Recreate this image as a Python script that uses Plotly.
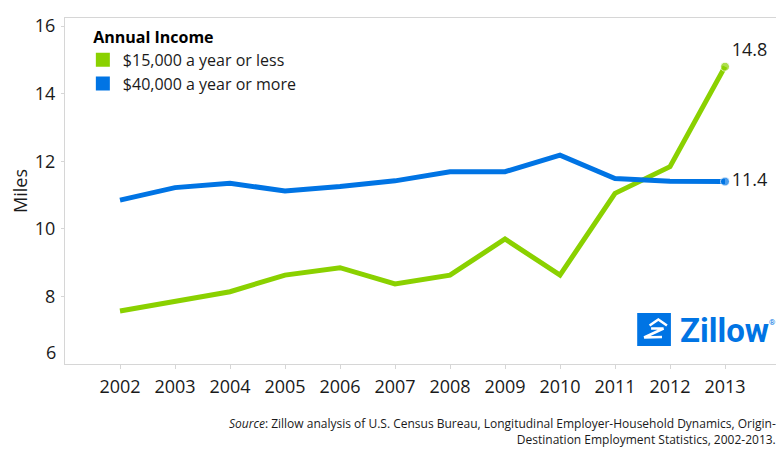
import plotly.graph_objects as go

years = [2002, 2003, 2004, 2005, 2006, 2007, 2008, 2009, 2010, 2011, 2012, 2013]
low_income = [7.57, 7.86, 8.14, 8.63, 8.85, 8.37, 8.63, 9.70, 8.63, 11.05, 11.84, 14.8]
high_income = [10.85, 11.22, 11.35, 11.12, 11.25, 11.42, 11.69, 11.69, 12.18, 11.49, 11.41, 11.4]
series_names = ["$15,000 a year or less", "$40,000 a year or more"]
y_ticks = [8, 10, 12, 14, 16]

GREEN = "#8AD100"
BLUE = "#0074E4"
TXT = "#1a1a1a"
FONT = "Open Sans"

OFF = 8  # default page body margin
W, H = 784 - OFF, 454 - OFF
# plot area in page pixels: left 60, top 18, right 781, bottom 364
ML, MT = 60 - OFF, 18 - OFF
MR = W - (781 - OFF)
MB = H - (364 - OFF)
PW, PH = W - ML - MR, H - MT - MB


def P(px, py):
    """page pixel -> paper coordinates"""
    fx, fy = px - OFF, py - OFF
    return (fx - ML) / PW, (H - MB - fy) / PH


def end_only(vals):
    return [""] * (len(vals) - 1) + [f"{vals[-1]:.1f}"]


def end_marker(vals):
    return [0] * (len(vals) - 1) + [9]


fig = go.Figure()
fig.add_trace(go.Scatter(
    x=years, y=low_income, mode="lines+markers+text", showlegend=False,
    line=dict(color=GREEN, width=5), marker=dict(color=GREEN, size=end_marker(low_income)),
    text=end_only(low_income), textposition="top right",
    textfont=dict(size=18, color=TXT, family=FONT), cliponaxis=False, hoverinfo="x+y"))
fig.add_trace(go.Scatter(
    x=years, y=high_income, mode="lines+markers+text", showlegend=False,
    line=dict(color=BLUE, width=5), marker=dict(color=BLUE, size=end_marker(high_income)),
    text=end_only(high_income), textposition="middle right",
    textfont=dict(size=18, color=TXT, family=FONT), cliponaxis=False, hoverinfo="x+y"))
# legend entries (square swatches)
for name, col in zip(series_names, [GREEN, BLUE]):
    fig.add_trace(go.Scatter(x=[None], y=[None], mode="markers", name=name,
                             marker=dict(symbol="square", size=14, color=col)))

shapes = []
x0, y0 = P(637, 346)
x1, y1 = P(671, 313)
shapes.append(dict(type="rect", xref="paper", yref="paper", x0=x0, y0=y0, x1=x1, y1=y1,
                   fillcolor=BLUE, line=dict(width=0), layer="above"))


def path(pts):
    s = ""
    for i, (a, b) in enumerate(pts):
        u, v = P(a, b)
        s += ("M" if i == 0 else "L") + f"{u:.5f},{v:.5f}"
    return s


shapes.append(dict(type="path", xref="paper", yref="paper",
                   path=path([(649.5, 325.5), (658.3, 319.5), (667, 325.5)]),
                   line=dict(color="white", width=2.5)))
shapes.append(dict(type="path", xref="paper", yref="paper",
                   path=path([(651, 328.5), (663.5, 328.5), (644, 337.5), (662, 337)]),
                   line=dict(color="white", width=2.5)))

annotations = []
zx, zy = P(678, 330)
annotations.append(dict(xref="paper", yref="paper", x=zx, y=zy, xanchor="left", yanchor="middle",
                        text="<b>Zillow</b>", showarrow=False,
                        font=dict(family="Roboto", size=33, color=BLUE)))
rx, ry = P(768, 322)
annotations.append(dict(xref="paper", yref="paper", x=rx, y=ry, xanchor="left", yanchor="middle",
                        text="®", showarrow=False, font=dict(family="Roboto", size=8, color=BLUE)))
annotations.append(dict(xref="paper", yref="paper", x=P(53, 0)[0], y=P(0, 352)[1],
                        xanchor="right", yanchor="middle", text="6", showarrow=False,
                        font=dict(family=FONT, size=18, color=TXT)))
srcx, srcy = P(779, 431)
annotations.append(dict(xref="paper", yref="paper", x=srcx, y=srcy, xanchor="right", yanchor="middle",
                        align="right", showarrow=False,
                        text="<i>Source</i>: Zillow analysis of U.S. Census Bureau, Longitudinal Employer-Household Dynamics, Origin-<br>"
                             "Destination Employment Statistics, 2002-2013.",
                        font=dict(family=FONT, size=12, color=TXT)))

lx, ly = P(78, 22)
fig.update_layout(
    width=W, height=H,
    margin=dict(l=ML, r=MR, t=MT, b=MB, pad=0),
    paper_bgcolor="white", plot_bgcolor="white",
    font=dict(family=FONT, color=TXT),
    shapes=shapes, annotations=annotations,
    legend=dict(x=lx, y=ly, xanchor="left", yanchor="top",
                title=dict(text="&nbsp;&nbsp;<b>Annual Income</b>", font=dict(size=16, color="black"), side="top"),
                font=dict(size=16, color=TXT), bgcolor="rgba(0,0,0,0)",
                tracegroupgap=0, itemwidth=30, traceorder="normal"),
    xaxis=dict(range=[2001, 2014], tickvals=years, ticktext=[str(y) for y in years],
               showgrid=False, zeroline=False, showline=True, mirror=True,
               linecolor="#d6d6d6", linewidth=1, ticks="outside", ticklen=4, tickcolor="#d6d6d6",
               tickfont=dict(size=18, color=TXT), ticklabelstandoff=2),
    yaxis=dict(range=[6, 16.24], tickvals=y_ticks, showgrid=False, zeroline=False,
               showline=True, mirror=True, linecolor="#d6d6d6", linewidth=1,
               ticks="outside", ticklen=3, tickcolor="#d6d6d6",
               tickfont=dict(size=18, color=TXT), ticklabelstandoff=2,
               title=dict(text="Miles", font=dict(size=18, color=TXT), standoff=11)),
)

fig.write_html("out.html")
